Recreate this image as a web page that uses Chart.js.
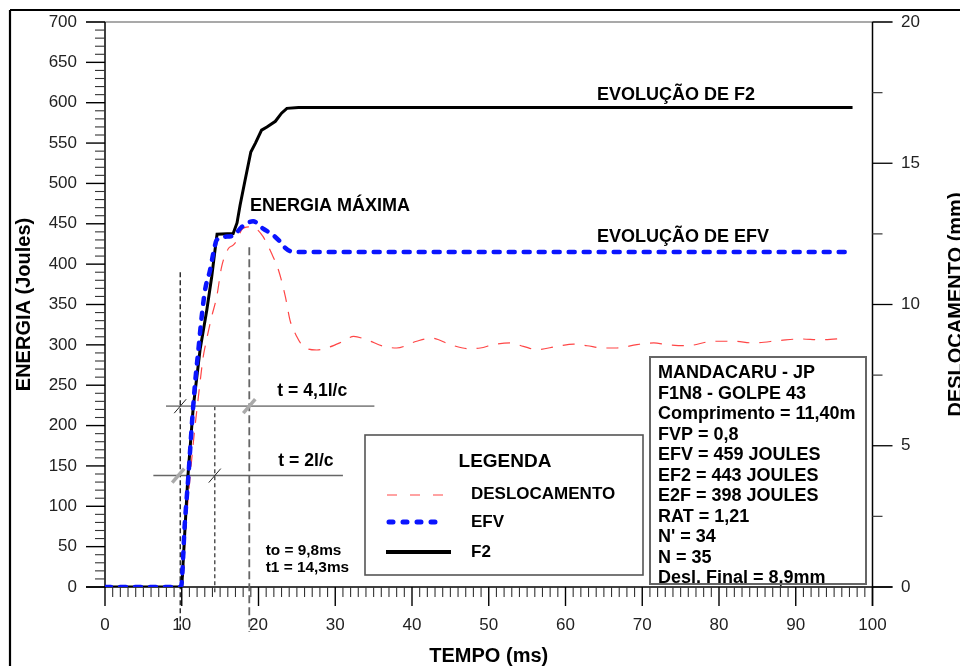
<!DOCTYPE html>
<html>
<head>
<meta charset="utf-8">
<title>Energia x Tempo</title>
<script src="https://cdn.jsdelivr.net/npm/chart.js@4.4.1/dist/chart.umd.min.js"></script>
<style>
  html, body { margin: 0; padding: 0; background: #ffffff; }
  canvas { display: block; }
</style>
</head>
<body>
<canvas id="grafico" width="960" height="666"></canvas>
<script>
// ---- Dados do ensaio (tempo em ms, energia em J, deslocamento em mm) ----
const tempoF2    = [0, 10.0, 10.8, 11.5, 12.4, 13.26, 13.9, 14.34, 14.6, 16.7, 17.2, 17.6, 18.25, 19.0, 19.6, 20.4, 21.1, 22.2, 23.0, 23.7, 25.2, 97.4];
const energiaF2  = [0, 0, 137, 223, 295, 343, 384, 418, 437, 438, 451, 473, 504, 539, 550, 566, 570, 577, 587, 593, 594, 594];

const tempoEFV   = [0, 9.9, 10.4, 10.86, 11.3, 11.73, 12.17, 12.6, 13.04, 13.7, 14.1, 14.56, 15.6, 16.7, 17.8, 19.3, 20.6, 21.9, 22.8, 23.5, 24.55, 97.4];
const energiaEFV = [0, 0, 79, 137, 199, 252, 294, 335, 368, 393, 413, 430, 434, 435, 446, 453, 444, 436, 428, 420, 415, 415];

const tempoDesl    = [0, 10.1, 10.43, 10.86, 11.5, 12.17, 12.8, 13.04, 13.9, 14.56, 15.2, 16.1, 16.7, 17.2, 17.8, 18.7, 19.6, 20.6, 21.7, 22.6, 23.5, 24.1, 25.0, 25.9, 27.6, 29.3, 30.9, 32.4, 34.1, 36.3, 38.0, 40.6, 42.6, 45.0, 47.2, 48.9, 50.6, 52.8, 54.5, 56.3, 58.9, 61.1, 62.8, 65.0, 66.7, 69.3, 71.5, 73.2, 75.8, 79.3, 81.9, 84.5, 88.0, 90.6, 93.2, 96.5];
const deslocamento = [0, 0, 1.78, 3.2, 5.09, 6.74, 8.15, 8.5, 9.57, 10.28, 11.34, 11.99, 12.1, 12.28, 12.64, 12.75, 12.7, 12.4, 11.81, 11.22, 10.28, 9.45, 8.86, 8.5, 8.39, 8.5, 8.68, 8.87, 8.75, 8.52, 8.46, 8.70, 8.81, 8.58, 8.44, 8.46, 8.58, 8.64, 8.52, 8.40, 8.52, 8.60, 8.54, 8.46, 8.46, 8.58, 8.64, 8.58, 8.54, 8.70, 8.70, 8.64, 8.73, 8.78, 8.75, 8.81];

// ---- Marcas dos eixos ----
const ticksTempo   = [0, 10, 20, 30, 40, 50, 60, 70, 80, 90, 100];
const ticksEnergia = [0, 50, 100, 150, 200, 250, 300, 350, 400, 450, 500, 550, 600, 650, 700];
const ticksDesl    = [0, 5, 10, 15, 20];

// ---- Instantes de referência (ms) e níveis das cotas (J) ----
const t0 = 9.8;
const t1 = 14.3;
const tEnergiaMax = 18.8;
const nivelCota41 = 224;
const nivelCota2 = 138;

// ---- Textos ----
const legendaItens = ['DESLOCAMENTO', 'EFV', 'F2'];
const resumoEnsaio = [
  'MANDACARU - JP',
  'F1N8 - GOLPE 43',
  'Comprimento = 11,40m',
  'FVP = 0,8',
  'EFV = 459 JOULES',
  'EF2 = 443 JOULES',
  'E2F = 398 JOULES',
  'RAT = 1,21',
  "N' = 34",
  'N = 35',
  'Desl. Final = 8,9mm'
];

const FAMILIA = '"Liberation Sans", Arial, Helvetica, sans-serif';
const VERMELHO = 'rgba(255, 50, 50, 0.9)';
const AZUL = '#0a14ff';

const pares = (xs, ys) => xs.map((v, i) => ({ x: v, y: ys[i] }));

function texto(ctx, s, x, y, tam, peso, alinh, cor) {
  ctx.save();
  ctx.font = `${peso} ${tam}px ${FAMILIA}`;
  ctx.fillStyle = cor || '#000';
  ctx.textAlign = alinh || 'left';
  ctx.textBaseline = 'alphabetic';
  ctx.fillText(s, x, y);
  ctx.restore();
}

function linha(ctx, x1, y1, x2, y2, cor, larg, traco) {
  ctx.save();
  ctx.strokeStyle = cor;
  ctx.lineWidth = larg;
  ctx.setLineDash(traco || []);
  ctx.beginPath();
  ctx.moveTo(x1, y1);
  ctx.lineTo(x2, y2);
  ctx.stroke();
  ctx.restore();
}

// pequena barra inclinada usada para marcar os instantes nas cotas
function barra(ctx, px, py, cor, larg) {
  linha(ctx, px - 6, py + 7, px + 6, py - 7, cor, larg);
}

// sem folgas extras: a área do gráfico fica definida só pelas larguras/alturas fixas
const semFolga = s => { s.paddingTop = 0; s.paddingBottom = 0; s.paddingLeft = 0; s.paddingRight = 0; };

const decoracao = {
  id: 'decoracao',
  beforeDatasetsDraw(chart) {
    const { ctx, scales: { x, y, y2 } } = chart;
    const xe = x.getPixelForValue(0), xd = x.getPixelForValue(100);
    const yb = y.getPixelForValue(0), yt = y.getPixelForValue(700);

    // moldura externa
    linha(ctx, 10, 10, 960, 10, '#000', 2.2);
    linha(ctx, 10, 10, 10, 666, '#000', 2.2);

    // linha superior da área do gráfico
    linha(ctx, xe - 19, yt, xd + 20, yt, '#555', 1.2);
    // eixos
    linha(ctx, xe, yt, xe, yb, '#000', 1.5);
    linha(ctx, xd, yt, xd, yb + 19, '#000', 1.5);
    linha(ctx, xe - 19, yb, xd + 20, yb, '#000', 1.5);

    // marcas do eixo de energia (maiores a cada 50 J, menores a cada 10 J)
    for (let v = 0; v <= 700; v += 10) {
      const p = y.getPixelForValue(v);
      const maior = v % 50 === 0;
      linha(ctx, xe - (maior ? 19 : 10), p, xe, p, maior ? '#000' : '#333', maior ? 1.4 : 1.1);
    }
    // marcas do eixo de tempo (maiores a cada 10 ms, menores a cada 1 ms)
    for (let v = 0; v <= 100; v += 1) {
      const p = x.getPixelForValue(v);
      const maior = v % 10 === 0;
      linha(ctx, p, yb, p, yb + (maior ? 19 : 10), maior ? '#000' : '#333', maior ? 1.4 : 1.1);
    }
    // marcas do eixo de deslocamento
    for (let v = 0; v <= 20; v += 2.5) {
      const p = y2.getPixelForValue(v);
      const maior = v % 5 === 0;
      linha(ctx, xd, p, xd + (maior ? 20 : 10), p, maior ? '#000' : '#444', 1.3);
    }

    // linhas verticais dos instantes
    const p0 = x.getPixelForValue(t0);
    const p1 = x.getPixelForValue(t1);
    const pm = x.getPixelForValue(tEnergiaMax);
    linha(ctx, p0, y.getPixelForValue(390), p0, yb + 45, '#000', 1.2, [5, 3]);
    linha(ctx, p1, y.getPixelForValue(nivelCota41), p1, yb + 6, '#555', 1.5, [4, 3]);
    linha(ctx, pm, y.getPixelForValue(421), pm, yb + 45, '#666', 1.8, [8, 4]);

    // cotas horizontais
    const c41 = y.getPixelForValue(nivelCota41);
    const c2 = y.getPixelForValue(nivelCota2);
    linha(ctx, x.getPixelForValue(7.95), c41, x.getPixelForValue(35.1), c41, '#8a8a8a', 1.8);
    linha(ctx, x.getPixelForValue(6.3), c2, x.getPixelForValue(31.0), c2, '#666', 1.5);
    barra(ctx, p0, c41, '#222', 1);
    barra(ctx, pm, c41, '#aaa', 3.5);
    barra(ctx, p0 - 2, c2, '#aaa', 3.5);
    barra(ctx, p1, c2, '#222', 1);
  },
  afterDatasetsDraw(chart) {
    const { ctx } = chart;

    // rótulos
    texto(ctx, 'ENERGIA MÁXIMA', 250, 210.5, 18, 'bold');
    texto(ctx, 'EVOLUÇÃO DE F2', 597, 100, 18, 'bold');
    texto(ctx, 'EVOLUÇÃO DE EFV', 597, 242.3, 18, 'bold');
    texto(ctx, 't = 4,1l/c', 277.3, 395.7, 17.6, 'bold');
    texto(ctx, 't = 2l/c', 278.3, 466.3, 17.6, 'bold');
    texto(ctx, 'to = 9,8ms', 265.7, 554.7, 15.4, 'bold');
    texto(ctx, 't1 = 14,3ms', 265.7, 572.3, 15.4, 'bold');

    // legenda
    ctx.save();
    ctx.fillStyle = '#fff';
    ctx.fillRect(365, 435, 278, 140);
    ctx.strokeStyle = '#555';
    ctx.lineWidth = 1.6;
    ctx.strokeRect(365, 435, 278, 140);
    ctx.restore();
    texto(ctx, 'LEGENDA', 505, 467.3, 19, 'bold', 'center');
    linha(ctx, 387, 495, 444, 495, VERMELHO, 1.2, [10, 13]);
    ctx.save();
    ctx.lineCap = 'round';
    linha(ctx, 389, 522, 445, 522, AZUL, 5, [4, 10]);
    ctx.restore();
    linha(ctx, 386, 552, 451, 552, '#000', 4);
    texto(ctx, legendaItens[0], 471, 499.3, 17, 'bold');
    texto(ctx, legendaItens[1], 471, 526.7, 17, 'bold');
    texto(ctx, legendaItens[2], 471, 556.5, 17, 'bold');

    // quadro-resumo do ensaio
    ctx.save();
    ctx.fillStyle = '#fff';
    ctx.fillRect(650, 357, 216, 227);
    ctx.restore();
    resumoEnsaio.forEach((s, i) => texto(ctx, s, 658, 378 + i * 20.5, 18, 'bold'));
    ctx.save();
    ctx.strokeStyle = '#666';
    ctx.lineWidth = 2;
    ctx.strokeRect(650, 357, 216, 227);
    ctx.restore();
  },
  afterDraw(chart) {
    const { ctx, chartArea } = chart;
    // título do eixo secundário (lido de baixo para cima)
    ctx.save();
    ctx.translate(956, (chartArea.top + chartArea.bottom) / 2);
    ctx.rotate(-Math.PI / 2);
    ctx.font = `bold 20px ${FAMILIA}`;
    ctx.fillStyle = '#000';
    ctx.textAlign = 'center';
    ctx.textBaseline = 'middle';
    ctx.fillText('DESLOCAMENTO (mm)', 0, 0);
    ctx.restore();
  }
};

const fonteTicks = { family: FAMILIA, size: 17 };

new Chart(document.getElementById('grafico'), {
  type: 'line',
  data: {
    datasets: [
      {
        label: 'F2',
        data: pares(tempoF2, energiaF2),
        yAxisID: 'y',
        borderColor: '#000',
        borderWidth: 3,
        tension: 0,
        pointRadius: 0,
        order: 1
      },
      {
        label: 'EFV',
        data: pares(tempoEFV, energiaEFV),
        yAxisID: 'y',
        borderColor: AZUL,
        borderWidth: 4.5,
        borderDash: [6, 9],
        borderCapStyle: 'round',
        cubicInterpolationMode: 'monotone',
        pointRadius: 0,
        order: 0
      },
      {
        label: 'DESLOCAMENTO',
        data: pares(tempoDesl, deslocamento),
        yAxisID: 'y2',
        borderColor: VERMELHO,
        borderWidth: 1.2,
        borderDash: [12, 10],
        cubicInterpolationMode: 'monotone',
        pointRadius: 0,
        order: 2
      }
    ]
  },
  options: {
    responsive: false,
    animation: false,
    devicePixelRatio: 1,
    layout: { padding: { top: 22, left: 0, right: 0, bottom: 0 } },
    plugins: {
      legend: { display: false },
      tooltip: { enabled: false }
    },
    scales: {
      x: {
        type: 'linear',
        position: 'bottom',
        min: 0,
        max: 100,
        afterBuildTicks: s => { s.ticks = ticksTempo.map(v => ({ value: v })); },
        afterFit: s => { s.height = 79; semFolga(s); },
        grid: { display: false, drawTicks: false },
        border: { display: false },
        ticks: { padding: 28, font: fonteTicks, color: '#222', maxRotation: 0, autoSkip: false },
        title: {
          display: true,
          text: 'TEMPO (ms)',
          color: '#000',
          font: { family: FAMILIA, size: 20, weight: 'bold', lineHeight: 1 },
          padding: 0
        }
      },
      y: {
        type: 'linear',
        position: 'left',
        min: 0,
        max: 700,
        afterBuildTicks: s => { s.ticks = ticksEnergia.map(v => ({ value: v })); },
        afterFit: s => { s.width = 105; semFolga(s); },
        grid: { display: false, drawTicks: false },
        border: { display: false },
        ticks: { padding: 28, font: fonteTicks, color: '#222', autoSkip: false },
        title: {
          display: true,
          text: 'ENERGIA (Joules)',
          color: '#000',
          font: { family: FAMILIA, size: 20, weight: 'bold', lineHeight: 1.2 },
          padding: { top: 12, bottom: 0 }
        }
      },
      y2: {
        type: 'linear',
        position: 'right',
        min: 0,
        max: 20,
        afterBuildTicks: s => { s.ticks = ticksDesl.map(v => ({ value: v })); },
        afterFit: s => { s.width = 87.5; semFolga(s); },
        grid: { display: false, drawTicks: false },
        border: { display: false },
        ticks: { padding: 28.5, font: fonteTicks, color: '#222', autoSkip: false }
      }
    }
  },
  plugins: [decoracao]
});
</script>
</body>
</html>
